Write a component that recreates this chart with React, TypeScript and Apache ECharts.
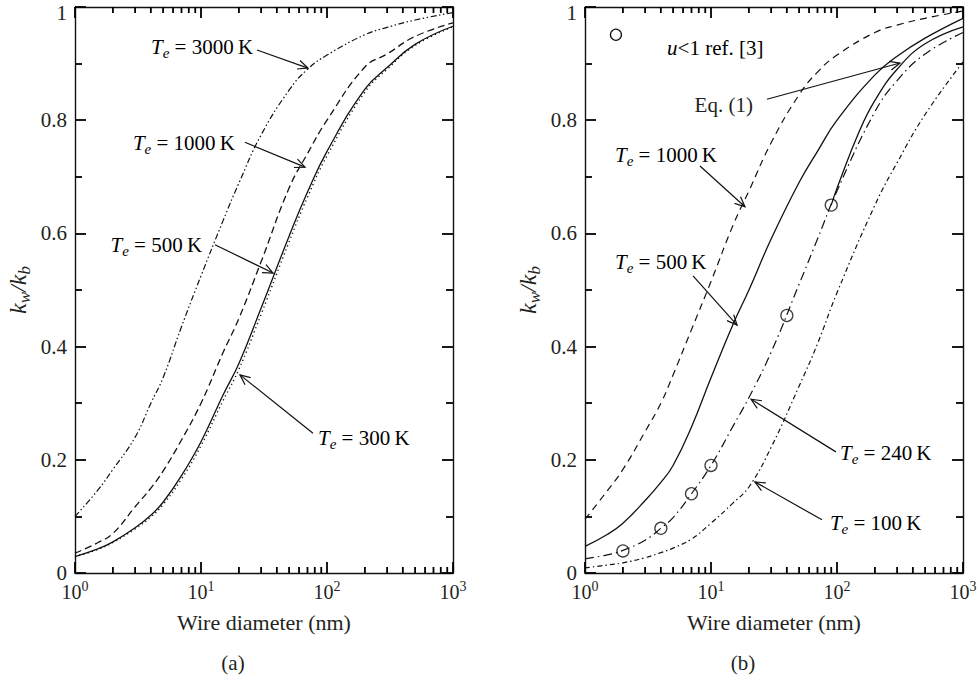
import React, { useEffect, useRef } from "react";
import * as echarts from "echarts";

// ---------- data ----------
const diameters = [1, 1.5, 2, 3, 4, 5, 7, 10, 15, 20, 30, 50, 70, 100, 200, 300, 500, 1000];

// panel (a)
const a3000 = [0.1, 0.145, 0.183, 0.24, 0.3, 0.345, 0.435, 0.525, 0.623, 0.689, 0.774, 0.853, 0.89, 0.915, 0.951, 0.964, 0.977, 0.99];
const a1000 = [0.035, 0.053, 0.07, 0.117, 0.15, 0.18, 0.235, 0.3, 0.39, 0.45, 0.55, 0.68, 0.741, 0.8, 0.894, 0.917, 0.948, 0.972];
const a500 = [0.029, 0.042, 0.055, 0.08, 0.102, 0.125, 0.172, 0.232, 0.315, 0.37, 0.468, 0.595, 0.673, 0.745, 0.855, 0.893, 0.934, 0.966];
const a300 = [0.029, 0.041, 0.054, 0.078, 0.099, 0.121, 0.166, 0.225, 0.305, 0.36, 0.457, 0.585, 0.664, 0.737, 0.85, 0.89, 0.932, 0.965];

// panel (b)
const b1000 = [0.095, 0.145, 0.183, 0.25, 0.3, 0.35, 0.43, 0.515, 0.615, 0.675, 0.76, 0.845, 0.885, 0.915, 0.955, 0.968, 0.98, 0.993];
const b500 = [0.047, 0.068, 0.088, 0.128, 0.16, 0.19, 0.258, 0.345, 0.44, 0.5, 0.59, 0.69, 0.745, 0.8, 0.88, 0.913, 0.945, 0.98];
const b240 = [0.025, 0.032, 0.04, 0.058, 0.079, 0.098, 0.14, 0.19, 0.26, 0.31, 0.39, 0.51, 0.59, 0.675, 0.815, 0.87, 0.917, 0.955];
const b100 = [0.009, 0.014, 0.018, 0.027, 0.036, 0.044, 0.06, 0.088, 0.124, 0.152, 0.222, 0.33, 0.405, 0.495, 0.65, 0.725, 0.81, 0.903];
const eq1Diameters = [90, 100, 150, 200, 300, 500, 1000];
const eq1Values = [0.65, 0.68, 0.78, 0.835, 0.89, 0.935, 0.965];
const refDiameters = [2, 4, 7, 10, 40, 90];
const refValues = [0.039, 0.079, 0.14, 0.19, 0.455, 0.65];

const minorMultipliers = [2, 3, 4, 5, 6, 7, 8, 9];
const decades = [1, 10, 100];

// annotations (data coordinates)
const annotations = [
  { grid: 0, temp: "3000", at: [25.9, 0.929], align: "right", from: [27.8, 0.924], to: [70.6, 0.892] },
  { grid: 0, temp: "1000", at: [18.6, 0.76], align: "right", from: [22.3, 0.761], to: [66.9, 0.717] },
  { grid: 0, temp: "500", at: [10.2, 0.58], align: "right", from: [12.9, 0.58], to: [37.3, 0.53] },
  { grid: 0, temp: "300", at: [84.9, 0.239], align: "left", from: [77.4, 0.247], to: [20.4, 0.35] },
  { grid: 1, temp: "1000", at: [1.73, 0.739], align: "left", from: [8.18, 0.719], to: [18.6, 0.647] },
  { grid: 1, temp: "500", at: [1.73, 0.549], align: "left", from: [7.2, 0.525], to: [16.1, 0.438] },
  { grid: 1, temp: "240", at: [105.6, 0.212], align: "left", from: [98, 0.214], to: [20.8, 0.307] },
  { grid: 1, temp: "100", at: [87.9, 0.088], align: "left", from: [76, 0.094], to: [22.3, 0.161] },
];
const eqLabel = { grid: 1, text: "Eq. (1)", at: [21.5, 0.827], from: [27.8, 0.837], to: [316, 0.901] };
const refLegend = { grid: 1, marker: [1.76, 0.951], at: [4.48, 0.928] };

// ---------- styles ----------
const FONT = "'Liberation Serif', 'DejaVu Serif', serif";
const INK = "#111111";
const TXT = "#231f20";
const TICK = "#000000";

const richBase = {
  it: { fontFamily: FONT, fontSize: 21, fontStyle: "italic", color: TXT, lineHeight: 27 },
  sub: { fontFamily: FONT, fontSize: 15, fontStyle: "italic", color: TXT, lineHeight: 12, verticalAlign: "bottom" },
  n: { fontFamily: FONT, fontSize: 21, color: TXT, lineHeight: 27 },
};
const richAxisName = {
  it: { fontFamily: FONT, fontSize: 24, fontStyle: "italic", color: TXT, lineHeight: 30 },
  sub: { fontFamily: FONT, fontSize: 17, fontStyle: "italic", color: TXT, lineHeight: 14, verticalAlign: "bottom" },
};

const pairs = (xs: number[], ys: number[]) => xs.map((x, i) => [x, ys[i]]);

function lineSeries(name: string, grid: number, xs: number[], ys: number[], type: any, width = 1.3) {
  return {
    name,
    type: "line",
    xAxisIndex: grid,
    yAxisIndex: grid,
    data: pairs(xs, ys),
    showSymbol: false,
    symbol: "none",
    smooth: 0.45,
    lineStyle: { color: INK, width, type },
  };
}

function makeXAxis(grid: number, position: string, showLabels: boolean) {
  return {
    type: "log",
    logBase: 10,
    gridIndex: grid,
    position,
    min: 1,
    max: 1000,
    name: showLabels ? "Wire diameter (nm)" : "",
    nameLocation: "middle",
    nameGap: 38,
    nameTextStyle: { fontFamily: FONT, fontSize: 22, color: TXT },
    axisLine: { show: true, onZero: false, lineStyle: { color: INK, width: 1.4 } },
    axisTick: { show: true, inside: true, length: 11, lineStyle: { color: TICK, width: 1.8 } },
    splitLine: { show: false },
    axisLabel: {
      show: showLabels,
      margin: 6,
      formatter: (v: number) => `{b|10}{s|${Math.round(Math.log10(v))}}`,
      rich: {
        b: { fontFamily: FONT, fontSize: 20, color: TXT, lineHeight: 26 },
        s: { fontFamily: FONT, fontSize: 14, color: TXT, lineHeight: 12, verticalAlign: "top" },
      },
    },
  };
}

function makeYAxis(grid: number, position: string, showLabels: boolean) {
  return {
    type: "value",
    gridIndex: grid,
    position,
    min: 0,
    max: 1,
    interval: 0.2,
    name: showLabels ? "{it|k}{sub|w}{it|/k}{sub|b}" : "",
    nameLocation: "middle",
    nameGap: 42,
    nameRotate: 90,
    nameTextStyle: { rich: richAxisName },
    axisLine: { show: true, onZero: false, lineStyle: { color: INK, width: 1.4 } },
    axisTick: { show: true, inside: true, length: 11, lineStyle: { color: TICK, width: 1.8 } },
    minorTick: { show: true, splitNumber: 2, length: 7, lineStyle: { color: TICK, width: 1.8 } },
    splitLine: { show: false },
    axisLabel: {
      show: showLabels,
      margin: 8,
      formatter: (v: number) => (v === 0 ? "{t|0}" : v === 1 ? "{top|1}" : `{t|${v.toFixed(1)}}`),
      rich: {
        t: { fontFamily: FONT, fontSize: 21, color: TXT },
        top: { fontFamily: FONT, fontSize: 21, color: TXT, padding: [12, 0, 0, 0] },
      },
    },
  };
}

export default function App() {
  const ref = useRef<HTMLDivElement>(null);

  useEffect(() => {
    if (!ref.current) return;
    const chart = echarts.init(ref.current, null, { renderer: "svg" });

    const dashDotDot = [6, 2.5, 1.5, 2.5, 1.5, 2.5];
    const option: any = {
      animation: false,
      grid: [
        { left: 75, top: 7, width: 378, height: 566, containLabel: false, outerBoundsMode: "none" },
        { left: 585, top: 7, width: 378, height: 566, containLabel: false, outerBoundsMode: "none" },
      ],
      xAxis: [makeXAxis(0, "bottom", true), makeXAxis(1, "bottom", true), makeXAxis(0, "top", false), makeXAxis(1, "top", false)],
      yAxis: [makeYAxis(0, "left", true), makeYAxis(1, "left", true), makeYAxis(0, "right", false), makeYAxis(1, "right", false)],
      series: [
        lineSeries("a3000", 0, diameters, a3000, dashDotDot, 1.2),
        lineSeries("a1000", 0, diameters, a1000, [7, 4], 1.3),
        lineSeries("a500", 0, diameters, a500, "solid", 1.3),
        lineSeries("a300", 0, diameters, a300, [1.2, 3.2], 1.4),
        lineSeries("b1000", 1, diameters, b1000, [7, 5], 1.2),
        lineSeries("b500", 1, diameters, b500, "solid", 1.3),
        lineSeries("eq1", 1, eq1Diameters, eq1Values, "solid", 1.3),
        lineSeries("b240", 1, diameters, b240, [9, 4, 1.5, 4], 1.2),
        lineSeries("b100", 1, diameters, b100, [5, 3, 1.5, 3], 1.2),
        {
          name: "ref3",
          type: "scatter",
          xAxisIndex: 1,
          yAxisIndex: 1,
          data: pairs(refDiameters, refValues),
          symbol: "circle",
          symbolSize: 12,
          itemStyle: { color: "#fff", borderColor: INK, borderWidth: 1.3 },
        },
      ],
    };
    chart.setOption(option);

    const px = (gi: number, p: number[]) => chart.convertToPixel({ xAxisIndex: gi, yAxisIndex: gi } as any, p) as number[];
    const g: any[] = [];

    // minor log ticks (bottom and top of each frame)
    [0, 1].forEach((gi) => {
      const yB = px(gi, [1, 0])[1];
      const yT = px(gi, [1, 1])[1];
      decades.forEach((dec) => {
        minorMultipliers.forEach((m) => {
          const x = px(gi, [m * dec, 0.5])[0];
          g.push({ type: "rect", silent: true, z: 50, shape: { x: x - 0.9, y: yB - 6, width: 1.8, height: 6 }, style: { fill: TICK } });
          g.push({ type: "rect", silent: true, z: 50, shape: { x: x - 0.9, y: yT, width: 1.8, height: 6 }, style: { fill: TICK } });
        });
      });
    });

    const arrow = (gi: number, from: number[], to: number[]) => {
      const a = px(gi, from);
      const b = px(gi, to);
      const ang = Math.atan2(b[1] - a[1], b[0] - a[0]);
      const L = 11;
      const spread = 0.42;
      const p1 = [b[0] - L * Math.cos(ang - spread), b[1] - L * Math.sin(ang - spread)];
      const p2 = [b[0] - L * Math.cos(ang + spread), b[1] - L * Math.sin(ang + spread)];
      g.push({ type: "line", silent: true, shape: { x1: a[0], y1: a[1], x2: b[0], y2: b[1] }, style: { stroke: INK, lineWidth: 1.2 } });
      g.push({ type: "polyline", silent: true, shape: { points: [p1, [b[0], b[1]], p2] }, style: { stroke: INK, lineWidth: 1.2, fill: "none" } });
    };

    annotations.forEach((an) => {
      const p = px(an.grid, an.at);
      g.push({
        type: "text",
        silent: true,
        x: p[0],
        y: p[1],
        style: {
          text: `{it|T}{sub|e}{n| = ${an.temp}\u2009K}`,
          rich: richBase,
          align: an.align,
          verticalAlign: "middle",
        },
      });
      arrow(an.grid, an.from, an.to);
    });

    {
      const p = px(eqLabel.grid, eqLabel.at);
      g.push({
        type: "text",
        silent: true,
        x: p[0],
        y: p[1],
        style: { text: eqLabel.text, fontFamily: FONT, fontSize: 21, fill: TXT, align: "right", verticalAlign: "middle" },
      });
      arrow(eqLabel.grid, eqLabel.from, eqLabel.to);
    }

    {
      const m = px(refLegend.grid, refLegend.marker);
      g.push({ type: "circle", silent: true, shape: { cx: m[0], cy: m[1], r: 5.5 }, style: { fill: "#fff", stroke: INK, lineWidth: 1.3 } });
      const p = px(refLegend.grid, refLegend.at);
      g.push({
        type: "text",
        silent: true,
        x: p[0],
        y: p[1],
        style: {
          text: "{it|u}{n|<1 ref. [3]}",
          rich: { it: richBase.it, n: richBase.n },
          align: "left",
          verticalAlign: "middle",
        },
      });
    }

    // panel captions
    g.push({ type: "text", silent: true, x: 233, y: 663, style: { text: "(a)", fontFamily: FONT, fontSize: 21, fill: TXT, align: "center", verticalAlign: "middle" } });
    g.push({ type: "text", silent: true, x: 743, y: 663, style: { text: "(b)", fontFamily: FONT, fontSize: 21, fill: TXT, align: "center", verticalAlign: "middle" } });

    chart.setOption({ graphic: g });

    return () => chart.dispose();
  }, []);

  return <div ref={ref} style={{ position: "fixed", left: 0, top: 0, width: 977, height: 680, background: "#fff" }} />;
}
